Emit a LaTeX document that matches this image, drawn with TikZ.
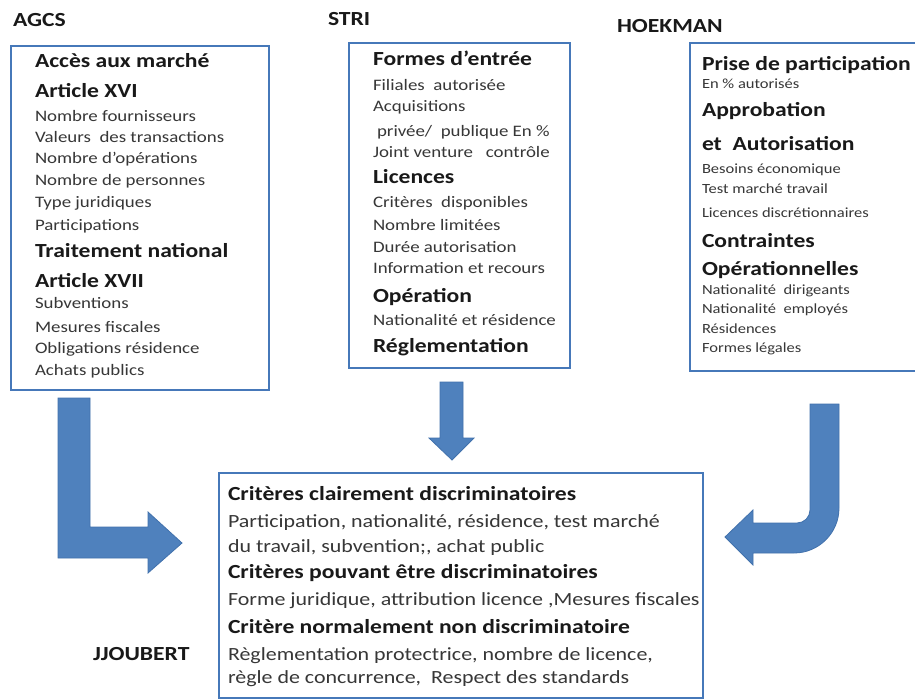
\documentclass[tikz,border=0pt]{standalone}
\usepackage{fontspec}
\setmainfont{Carlito}
\definecolor{arrowblue}{RGB}{79,129,189}
\definecolor{arrowedge}{RGB}{65,113,172}
\definecolor{boxblue}{RGB}{70,120,185}
\definecolor{txtdark}{RGB}{25,25,25}
\definecolor{txtsmall}{RGB}{55,55,55}
\newcommand\Hd[1]{\scalebox{1.18}[1]{\bfseries\fontsize{20}{24}\selectfont #1}}
\newcommand\Sm[1]{\scalebox{1.18}[1]{\fontsize{16}{18}\selectfont #1}}
\newcommand\Ss[1]{\scalebox{1.18}[1]{\fontsize{14}{16}\selectfont #1}}
\newcommand\Rg[1]{\scalebox{1.18}[1]{\fontsize{18.6}{21}\selectfont #1}}
\tikzset{
  ln/.style={anchor=base west, inner sep=0pt, outer sep=0pt},
  hd/.style={ln, text=txtdark},
  sm/.style={ln, text=txtsmall},
  frame/.style={draw=boxblue, line width=2pt, fill=none, inner sep=0pt, anchor=north west},
  bigarrow/.style={fill=arrowblue, draw=arrowedge, line width=0.8pt, line join=miter}
}
\begin{document}
\begin{tikzpicture}[x=1pt,y=-1pt]
\useasboundingbox (0,0) rectangle (915,699);
\fill[white] (0,0) rectangle (915,699);

% titles
\node[hd] (tagcs) at (13,26) {\Hd{AGCS}};
\node[hd] (tstri) at (328,25) {\Hd{STRI}};
\node[hd] (thoek) at (617,32) {\Hd{HOEKMAN}};
\node[hd] (tjoub) at (93,660) {\Hd{JJOUBERT}};

% boxes
\node[frame, minimum width=258pt, minimum height=344pt] (agcs) at (10,45) {};
\node[frame, minimum width=221pt, minimum height=325pt] (stri) at (348,42) {};
\draw[draw=boxblue, line width=2pt] (916,43) -- (690,43) -- (690,371) -- (916,371);
\coordinate (hoek) at (800,207);
\node[frame, minimum width=484pt, minimum height=225pt] (jjb) at (218,472) {};

% AGCS content
\node[hd] (a1) at (35,67) {\Hd{Accès aux marché}};
\node[hd] (a2) at (35,97) {\Hd{Article XVI}};
\node[sm] (a3) at (35,121) {\Sm{Nombre fournisseurs}};
\node[sm] (a4) at (35,142) {\Sm{Valeurs\ \ des transactions}};
\node[sm] (a5) at (35,163) {\Sm{Nombre d’opérations}};
\node[sm] (a6) at (35,185) {\Sm{Nombre de personnes}};
\node[sm] (a7) at (35,207) {\Sm{Type juridiques}};
\node[sm] (a8) at (35,230) {\Sm{Participations}};
\node[hd] (a9) at (35,257) {\Hd{Traitement national}};
\node[hd] (a10) at (35,287) {\Hd{Article XVII}};
\node[sm] (a11) at (35,308) {\Sm{Subventions}};
\node[sm] (a12) at (35,332) {\Sm{Mesures fiscales}};
\node[sm] (a13) at (35,353) {\Sm{Obligations résidence}};
\node[sm] (a14) at (35,375) {\Sm{Achats publics}};

% STRI content
\node[hd] (s1) at (373,65) {\Hd{Formes d’entrée}};
\node[sm] (s2) at (373,90) {\Sm{Filiales\ \ autorisée}};
\node[sm] (s3) at (373,111) {\Sm{Acquisitions}};
\node[sm] (s4) at (377,136) {\Sm{privée/\ \ publique En \%}};
\node[sm] (s5) at (373,157) {\Sm{Joint venture\ \ \ contrôle}};
\node[hd] (s6) at (373,183) {\Hd{Licences}};
\node[sm] (s7) at (373,207) {\Sm{Critères\ \ disponibles}};
\node[sm] (s8) at (373,230) {\Sm{Nombre limitées}};
\node[sm] (s9) at (373,252) {\Sm{Durée autorisation}};
\node[sm] (s10) at (373,273) {\Sm{Information et recours}};
\node[hd] (s11) at (373,302) {\Hd{Opération}};
\node[sm] (s12) at (373,325) {\Sm{Nationalité et résidence}};
\node[hd] (s13) at (373,352) {\Hd{Réglementation}};

% HOEKMAN content
\node[hd] (h1) at (702,70) {\Hd{Prise de participation}};
\node[sm] (h2) at (702,88) {\Ss{En \% autorisés}};
\node[hd] (h3) at (702,116) {\Hd{Approbation}};
\node[hd] (h4) at (702,150) {\Hd{et\ \ Autorisation}};
\node[sm] (h5) at (702,173) {\Ss{Besoins économique}};
\node[sm] (h6) at (702,193) {\Ss{Test marché\ travail}};
\node[sm] (h7) at (702,217) {\Ss{Licences discrétionnaires}};
\node[hd] (h8) at (702,247) {\Hd{Contraintes}};
\node[hd] (h9) at (702,275) {\Hd{Opérationnelles}};
\node[sm] (h10) at (702,294) {\Ss{Nationalité\ \ dirigeants}};
\node[sm] (h11) at (702,313) {\Ss{Nationalité\ \ employés}};
\node[sm] (h12) at (702,333) {\Ss{Résidences}};
\node[sm] (h13) at (702,352) {\Ss{Formes légales}};

% JJOUBERT content
\node[hd] (j1) at (228,500) {\Hd{Critères clairement discriminatoires}};
\node[sm] (j2) at (228,527) {\Rg{Participation, nationalité, résidence, test marché}};
\node[sm] (j3) at (228,552) {\Rg{du travail, subvention;, achat public}};
\node[hd] (j4) at (228,578) {\Hd{Critères pouvant être discriminatoires}};
\node[sm] (j5) at (228,605) {\Rg{Forme juridique, attribution licence ,Mesures fiscales}};
\node[hd] (j6) at (228,633) {\Hd{Critère normalement non discriminatoire}};
\node[sm] (j7) at (228,660) {\Rg{Règlementation protectrice, nombre de licence,}};
\node[sm] (j8) at (228,683) {\Rg{règle de concurrence,\ \ Respect des standards}};

% arrows
\path[bigarrow] (58,398) -- (90,398) -- (90,527) -- (148,527) -- (148,512)
  -- (182,543) -- (148,573) -- (148,558) -- (58,558) -- cycle;
\path[bigarrow] (440,382) -- (463,382) -- (463,438) -- (474,438) -- (452,460)
  -- (429,438) -- (440,438) -- cycle;
\path[bigarrow] (810,404) -- (839,404) -- (839,508)
  arc[start angle=0, end angle=90, radius=45] -- (753,553) -- (753,565)
  -- (725,537) -- (753,510) -- (753,523) -- (797,523)
  arc[start angle=90, end angle=0, radius=13] -- cycle;
\end{tikzpicture}
\end{document}
